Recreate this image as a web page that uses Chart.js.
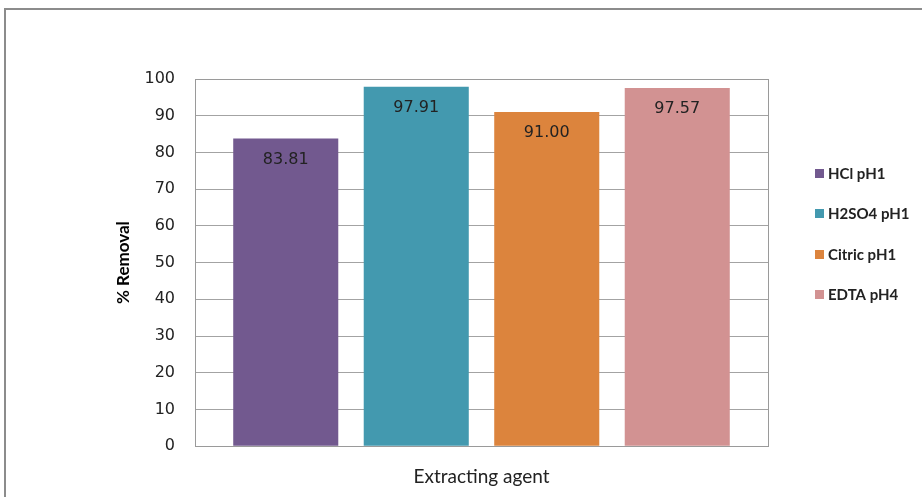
<!DOCTYPE html>
<html>
<head>
<meta charset="utf-8">
<script src="https://cdn.jsdelivr.net/npm/chart.js@4"></script>
<style>
  html, body { margin: 0; padding: 0; background: #fff; }
  #wrap { position: relative; width: 922px; height: 497px; overflow: hidden; }
  #frame {
    position: absolute; left: 4px; top: 8px; width: 1000px; height: 600px;
    border-left: 2px solid #8c8c8c; border-top: 2px solid #8c8c8c;
    box-sizing: border-box;
  }
  canvas { position: absolute; left: 0; top: 0; }
</style>
</head>
<body>
<div id="wrap">
  <div id="frame"></div>
  <canvas id="chartBar" width="922" height="497"></canvas>
</div>
<script>
// agents and % removal
const agents = ["HCl pH1", "H2SO4 pH1", "Citric pH1", "EDTA pH4"];
const removal = [83.81, 97.91, 91.00, 97.57];
const barColors = ["#72598f", "#4399af", "#dc843d", "#d29292"];
const yTicks = [0, 10, 20, 30, 40, 50, 60, 70, 80, 90, 100];

// box around the plot area
const plotFrame = {
  id: "plotFrame",
  beforeDatasetsDraw(chart) {
    const a = chart.chartArea;
    const ctx = chart.ctx;
    ctx.save();
    ctx.strokeStyle = "#9a9a9a";
    ctx.lineWidth = 1;
    ctx.strokeRect(Math.round(a.left) + 0.5, Math.round(a.top) + 0.5,
      Math.round(a.right - a.left), Math.round(a.bottom - a.top));
    ctx.restore();
  }
};

// value written just under the top of each bar
const valueLabels = {
  id: "valueLabels",
  afterDatasetsDraw(chart) {
    const ctx = chart.ctx;
    ctx.save();
    ctx.font = "16px 'DejaVu Sans'";
    ctx.fillStyle = "#222";
    ctx.textAlign = "center";
    ctx.textBaseline = "middle";
    chart.data.datasets.forEach((ds, i) => {
      const bar = chart.getDatasetMeta(i).data[0];
      ctx.fillText(ds.data[0].toFixed(2), bar.x, bar.y + 21);
    });
    ctx.restore();
  }
};

// legend on the right, one square per agent
const sideLegend = {
  id: "sideLegend",
  afterDraw(chart) {
    const ctx = chart.ctx;
    ctx.save();
    ctx.font = "bold 15px Lato";
    ctx.textBaseline = "middle";
    chart.data.datasets.forEach((ds, i) => {
      const y = 173 + i * 40.5;
      ctx.fillStyle = ds.backgroundColor;
      ctx.fillRect(815, Math.round(y - 4.5), 9, 9);
      ctx.fillStyle = "#222";
      ctx.fillText(ds.label, 828, y + 1);
    });
    ctx.restore();
  }
};

const ctx = document.getElementById("chartBar").getContext("2d");
new Chart(ctx, {
  type: "bar",
  data: {
    labels: [""],
    datasets: agents.map((name, i) => ({
      label: name,
      data: [removal[i]],
      backgroundColor: barColors[i],
      categoryPercentage: 0.911,
      barPercentage: 0.805
    }))
  },
  options: {
    responsive: false,
    animation: false,
    layout: { padding: { left: 110, top: 79, right: 154, bottom: 9 } },
    plugins: {
      legend: { display: false },
      tooltip: { enabled: false }
    },
    scales: {
      x: {
        grid: { display: false },
        border: { display: false },
        ticks: { display: false },
        title: {
          display: true,
          text: "Extracting agent",
          color: "#222",
          font: { family: "Lato", size: 19 },
          padding: { top: 11, bottom: 0 }
        }
      },
      y: {
        min: 0,
        max: 100,
        afterBuildTicks(scale) {
          scale.ticks = yTicks.map(v => ({ value: v }));
        },
        afterFit(scale) {
          scale.width = 85;
        },
        grid: { color: "#a3a3a3", lineWidth: 1, drawTicks: false },
        border: { display: true, color: "#9a9a9a" },
        ticks: {
          padding: 20,
          color: "#222",
          font: { family: "DejaVu Sans", size: 16 }
        },
        title: {
          display: true,
          text: "% Removal",
          color: "#000",
          font: { family: "Lato", size: 17, weight: "bold" },
          padding: { top: 3, bottom: 0 }
        }
      }
    }
  },
  plugins: [plotFrame, valueLabels, sideLegend]
});
</script>
</body>
</html>
